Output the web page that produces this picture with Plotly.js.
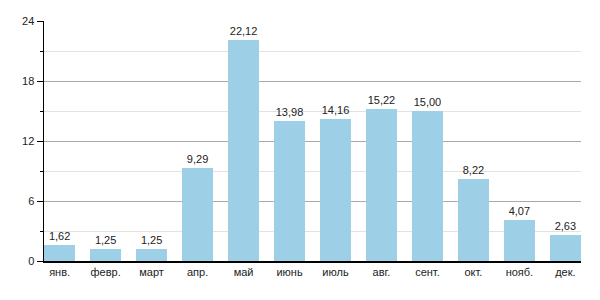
<!DOCTYPE html>
<html><head><meta charset="utf-8">
<script src="https://cdn.plot.ly/plotly-3.0.1.min.js"></script>
<style>html,body{margin:0;padding:0;background:#fff}#c{width:600px;height:300px}</style>
</head><body><div id="c"></div>
<script>
const months = ["янв.","февр.","март","апр.","май","июнь","июль","авг.","сент.","окт.","нояб.","дек."];
const values = [1.62,1.25,1.25,9.29,22.12,13.98,14.16,15.22,15.00,8.22,4.07,2.63];
const yTicks = [0,6,12,18,24];

const font = {family:"Liberation Sans, Arial, sans-serif", size:11, color:"#222"};
Plotly.newPlot("c",[{
  type:"bar",
  x:months.map((m,i)=>i),
  y:values,
  width:0.675,
  marker:{color:"#9dcfe6", line:{width:0}},
  text:values.map(v=>v.toFixed(2).replace(".",",")),
  textposition:"outside",
  cliponaxis:false,
  textfont:{family:font.family,size:11,color:"#222"},
  hoverinfo:"none"
}],{
  width:600,height:300,
  margin:{l:44,r:19,t:21,b:39},
  paper_bgcolor:"#fff",plot_bgcolor:"#fff",
  font:font,
  showlegend:false,
  bargap:0,
  xaxis:{
    range:[-0.34,11.34],
    tickmode:"array",tickvals:months.map((m,i)=>i),ticktext:months,
    showgrid:false,zeroline:false,
    showline:true,linecolor:"#000",linewidth:1.5,
    ticks:"",tickfont:font,fixedrange:true
  },
  yaxis:{
    range:[0,24],
    tickmode:"array",tickvals:yTicks,
    showgrid:true,gridcolor:"#aaaaaa",gridwidth:1,
    zeroline:false,
    showline:true,linecolor:"#000",linewidth:1.5,
    ticks:"outside",ticklen:6,tickcolor:"#000",tickwidth:1,
    minor:{tickvals:[3,9,15,21],showgrid:true,gridcolor:"#e2e2e2",gridwidth:1,ticks:"outside",ticklen:3,tickcolor:"#000"},
    tickfont:font,fixedrange:true
  }
},{displayModeBar:false,staticPlot:true});
</script></body></html>
